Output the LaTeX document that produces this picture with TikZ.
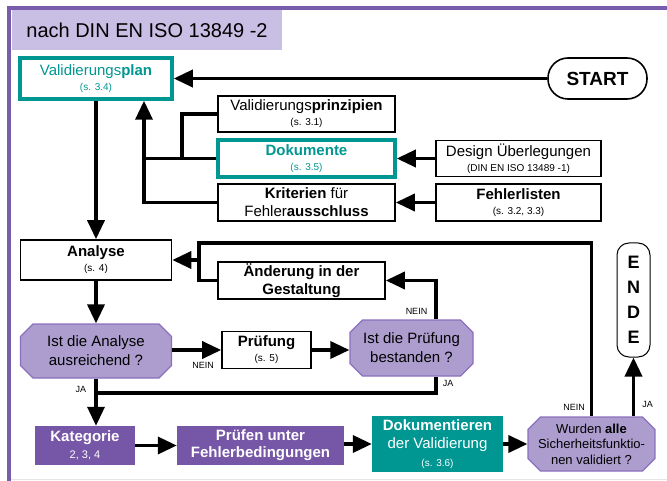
\documentclass[tikz,border=0pt]{standalone}
\usepackage{fontspec}
\setmainfont{Liberation Sans}
\usetikzlibrary{arrows.meta,positioning,calc,shapes.misc}
\definecolor{petrol}{RGB}{0,150,145}
\definecolor{lila}{RGB}{201,190,228}
\definecolor{violett}{RGB}{118,86,166}
\definecolor{flieder}{RGB}{172,157,206}
\definecolor{fliederrand}{RGB}{138,112,188}
\definecolor{rahmen}{RGB}{122,92,172}
\newcommand{\kleintext}[1]{{\fontsize{10}{12}\selectfont #1}}

\begin{document}
\begin{tikzpicture}[x=1pt, y=-1pt, >=Stealth,
    box/.style={draw, line width=1.6pt, fill=white, align=center, inner sep=1pt, font=\fontsize{15}{15}\selectfont},
    petrolbox/.style={box, draw=petrol, line width=3.5pt, text=petrol},
    frage/.style={chamfered rectangle, chamfered rectangle xsep=9pt, draw=fliederrand, line width=1.2pt, fill=flieder, align=center, inner sep=1pt, font=\fontsize{15}{19}\selectfont},
    violettbox/.style={fill=violett, text=white, align=center, inner sep=1pt, font=\fontsize{15}{17}\selectfont\bfseries},
    petrolfill/.style={fill=petrol, text=white, align=center, inner sep=1pt, font=\fontsize{15}{18}\selectfont},
    flow/.style={line width=3.5pt, -{Triangle[length=19pt,width=17pt]}},
    linie/.style={line width=3.5pt},
    lbl/.style={font=\fontsize{9}{10}\selectfont, inner sep=1pt}]

    \useasboundingbox (0,0) rectangle (667,481);

    % Rahmen
    \draw[gray!20, line width=1pt] (9,479) -- (667,479);
    \draw[rahmen, line width=4pt] (9,481) -- (9,8) -- (667,8);

    % Titel
    \node[fill=lila, minimum width=270pt, minimum height=40pt, font=\fontsize{20}{22}\selectfont] (titel) at (147,30) {nach DIN EN ISO 13849 -2};

    % Obere Reihe
    \node[petrolbox, minimum width=152pt, minimum height=41pt] (plan) at (96,78.5) {Validierungs\textbf{plan}\\\kleintext{(s. 3.4)}};
    \node[draw, line width=1.6pt, rounded corners=20pt, minimum width=99pt, minimum height=41pt, font=\fontsize{19}{22}\selectfont\bfseries] (start) at (597.5,78.5) {START};

    \node[box, minimum width=177pt, minimum height=36pt] (prinz) at (306.5,114) {Validierungs\textbf{prinzipien}\\\kleintext{(s. 3.1)}};
    \node[petrolbox, minimum width=177pt, minimum height=37pt] (doku) at (306.5,158.5) {\textbf{Dokumente}\\\kleintext{(s. 3.5)}};
    \node[box, minimum width=177pt, minimum height=37pt, font=\fontsize{15}{18}\selectfont] (krit) at (306.5,202.5) {\textbf{Kriterien} für\\Fehler\textbf{ausschluss}};
    \node[box, minimum width=165pt, minimum height=36pt] (design) at (518.5,158.5) {Design Überlegungen\\\kleintext{(DIN EN ISO 13489 -1)}};
    \node[box, minimum width=165pt, minimum height=37pt] (fehler) at (518.5,202.5) {\textbf{Fehlerlisten}\\\kleintext{(s. 3.2, 3.3)}};

    % Analyse und Prüfung
    \node[box, minimum width=151pt, minimum height=40pt] (analyse) at (96,260) {\textbf{Analyse}\\\kleintext{(s. 4)}};
    \node[box, minimum width=167pt, minimum height=37pt, font=\fontsize{15}{18}\selectfont\bfseries] (aend) at (301.5,280.5) {Änderung in der\\Gestaltung};
    \node[frage, minimum width=151pt, minimum height=54pt] (frage1) at (96,351) {Ist die Analyse\\ausreichend ?};
    \node[box, minimum width=89pt, minimum height=37pt] (pruef) at (266.5,350) {\textbf{Prüfung}\\\kleintext{(s. 5)}};
    \node[frage, minimum width=123pt, minimum height=56pt] (frage2) at (411.5,348) {Ist die Prüfung\\bestanden ?};

    % Untere Reihe
    \node[violettbox, minimum width=100pt, minimum height=39pt] (kat) at (85,445.5) {Kategorie\\{\fontsize{11}{13}\selectfont\mdseries 2, 3, 4}};
    \node[violettbox, minimum width=167pt, minimum height=39pt] (fehlerbed) at (260.5,445.5) {Prüfen unter\\Fehlerbedingungen};
    \node[petrolfill, minimum width=131pt, minimum height=56pt] (dokval) at (437.5,444) {\textbf{Dokumentieren}\\der Validierung\\\kleintext{(s. 3.6)}};
    \node[frage, minimum width=123pt, minimum height=54pt, font=\fontsize{13}{15.5}\selectfont] (frage3) at (591.5,444) {Wurden \textbf{alle}\\Sicherheitsfunktio-\\nen validiert ?};
    \node[draw, line width=1pt, rounded corners=12pt, minimum width=33pt, minimum height=114pt, align=center, font=\fontsize{18}{25}\selectfont\bfseries] (ende) at (633.5,300) {E\\N\\D\\E};

    % Hilfspunkte
    \coordinate (bus) at (144,0);
    \coordinate (knick) at (182,0);
    \coordinate (schleife) at (199,243);
    \coordinate (treff) at (96,393);

    % Verbindungen oben
    \draw[flow] (start.west) -- (plan.east);
    \draw[flow] (design.west) -- (doku.east);
    \draw[flow] (fehler.west) -- (krit.east);
    \draw[linie] (doku.west) -- (bus |- doku.west);
    \draw[linie] (prinz.west) -| (knick |- doku.west);
    \draw[flow] (krit.west) -| (bus |- plan.south);
    \draw[flow] (plan.south) -- (analyse.north);

    % Verbindungen Mitte
    \draw[flow] (analyse.south) -- (frage1.north);
    \draw[flow] (frage1.east |- pruef.west) -- node[lbl, below=10pt, pos=0.63] {NEIN} (pruef.west);
    \draw[flow] (pruef.east) -- (pruef.east -| frage2.west);
    \draw[flow] ($(frage2.north)+(24.5,0)$) |- node[lbl, left=6pt, pos=0.1] {NEIN} (aend.east);
    \draw[linie] ($(frage2.south)+(24.5,0)$) |- node[lbl, right=4pt, pos=0.2] {JA} (treff);
    \draw[linie] (aend.west) -| (schleife) -| (frage3.north);
    \draw[flow] (schleife |- analyse.east) -- (analyse.east);
    \node[lbl, anchor=east] (nein3) at (586,407) {NEIN};

    % Verbindungen unten
    \draw[flow] (frage1.south) -- node[lbl, left=7pt, pos=0.23] {JA} (frage1.south |- kat.north);
    \draw[flow] (kat.east |- fehlerbed.west) -- (fehlerbed.west);
    \draw[flow] (fehlerbed.east |- dokval.west) -- (dokval.west);
    \draw[flow] (dokval.east) -- (dokval.east -| frage3.west);
    \draw[flow] (ende.south |- frage3.north) -- node[lbl, right=6pt, pos=0.2] {JA} (ende.south);

\end{tikzpicture}
\end{document}
